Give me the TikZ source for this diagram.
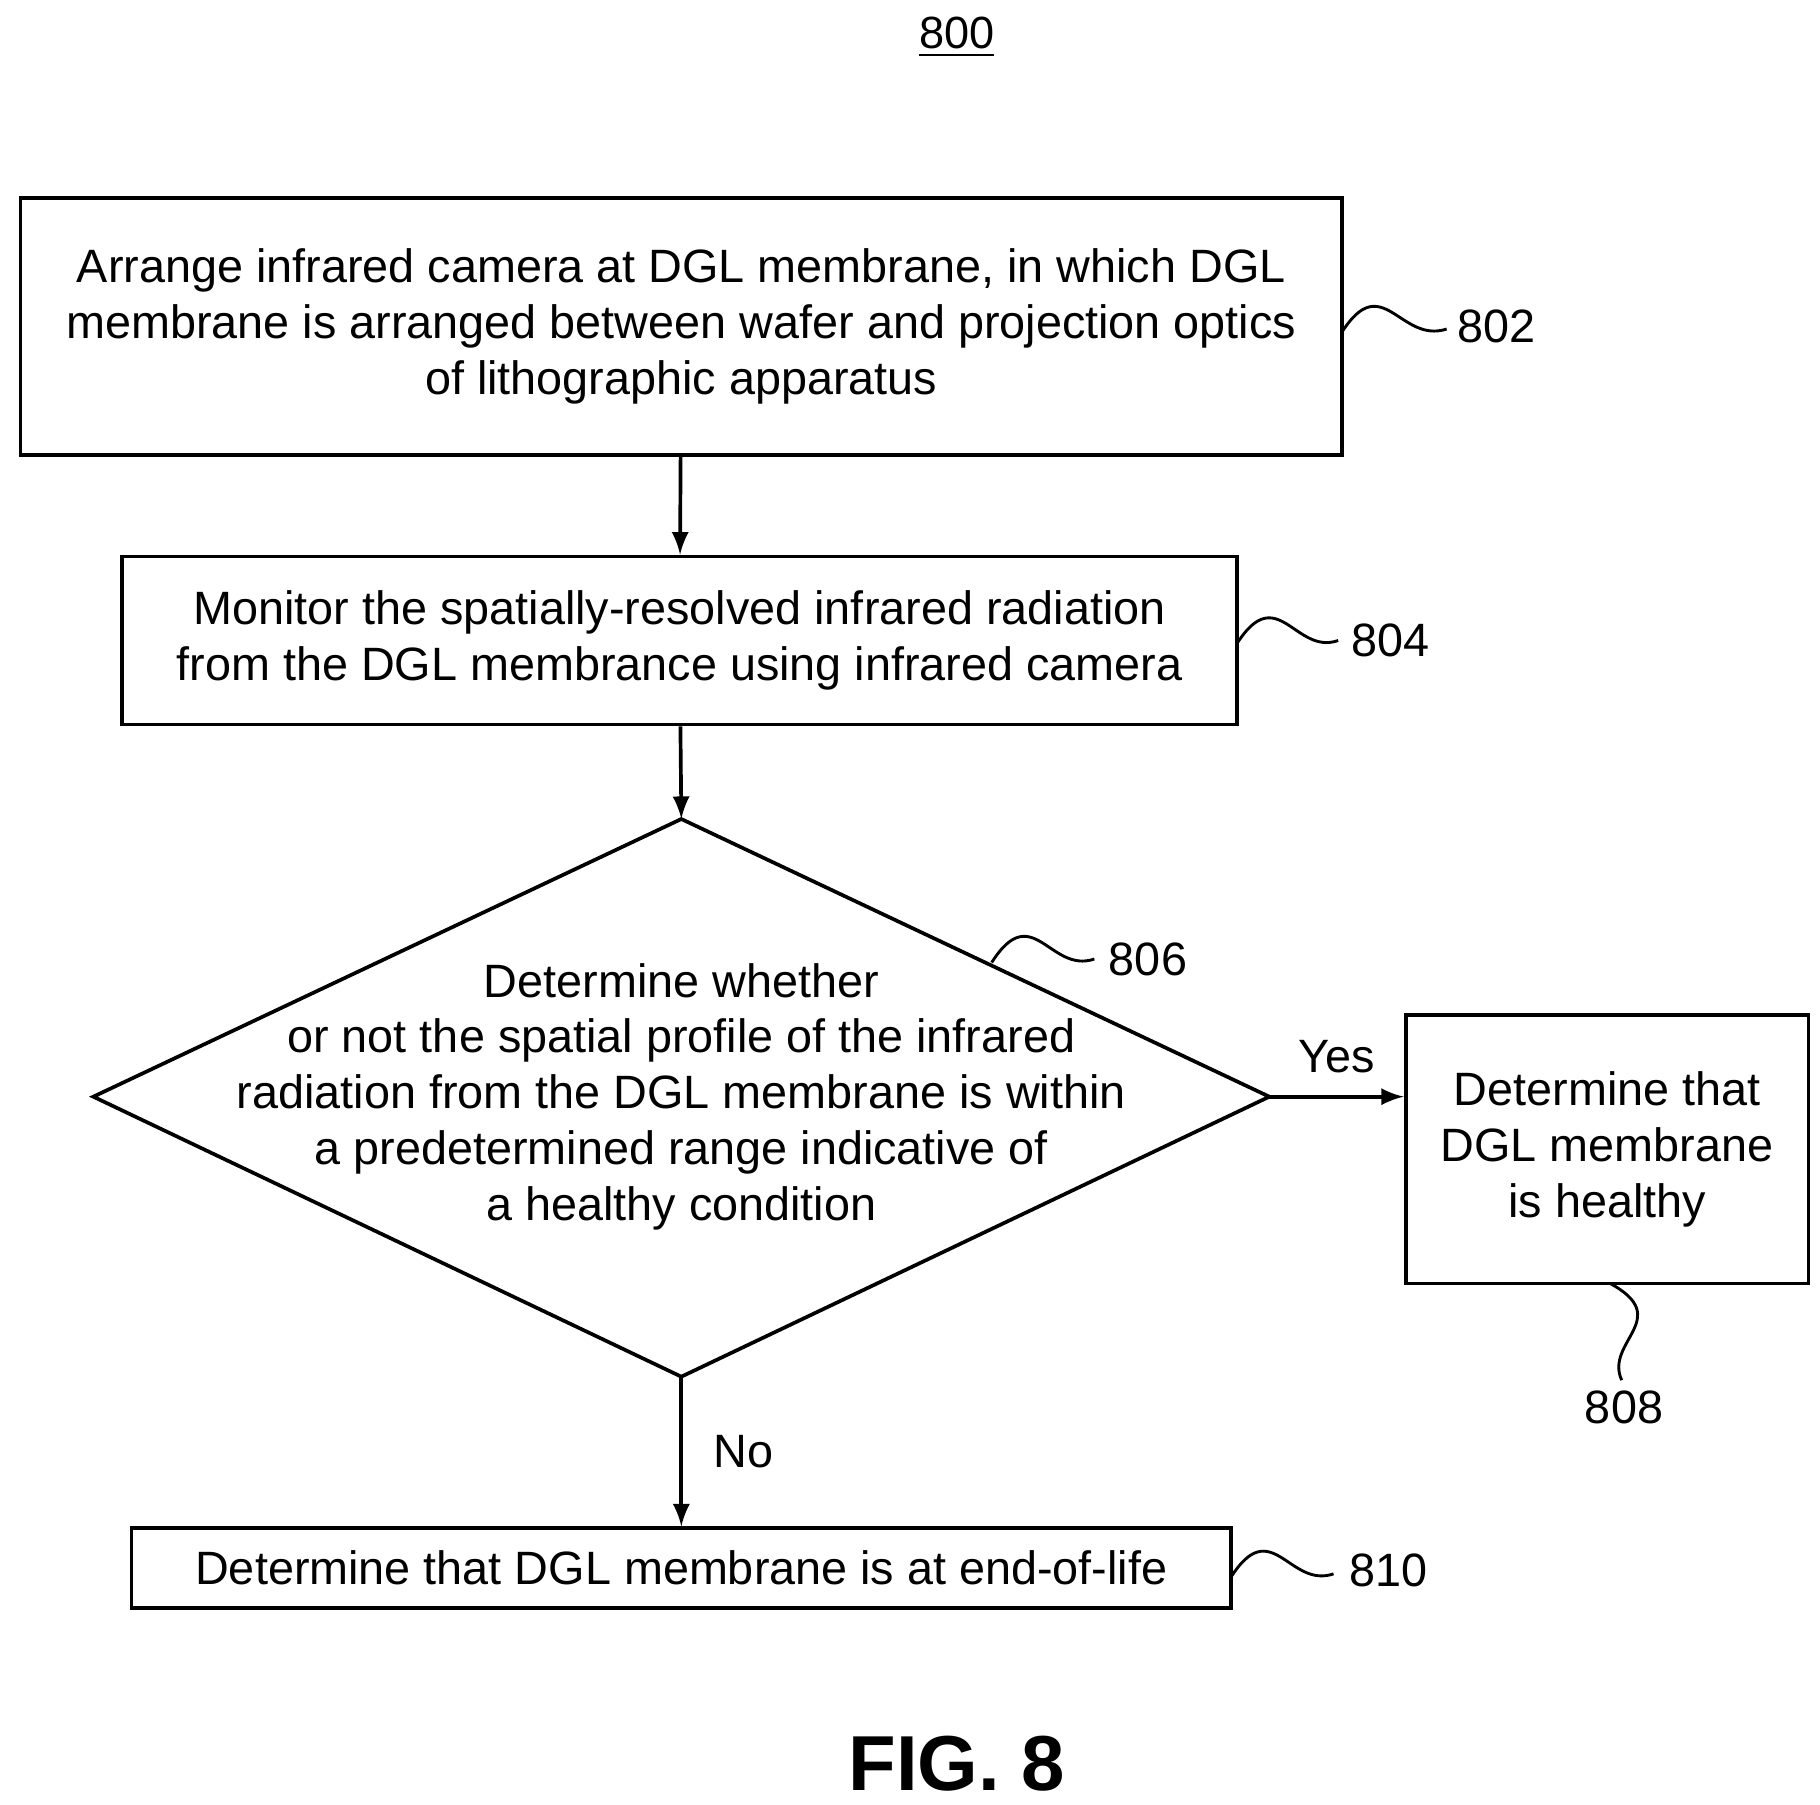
\documentclass[tikz,border=0pt]{standalone}
\usepackage{fontspec}
\setmainfont{Liberation Sans}
\usetikzlibrary{positioning}
\begin{document}
\begin{tikzpicture}[x=0.01cm, y=-0.01cm, line width=0.9pt,
  box/.style={draw, align=center, font=\fontsize{11.4}{13.6}\selectfont, inner sep=0pt},
  lbl/.style={font=\fontsize{11.4}{13.6}\selectfont},
  flow/.style={->, >=latex}]
  \useasboundingbox (0,0) rectangle (1560,1547);
  \node[font=\fontsize{11}{13}\selectfont] (num) at (820,32) {\underline{800}};
  \node[box, minimum width=11.32cm, minimum height=2.2cm] (s802) at (584,280)
    {Arrange infrared camera at DGL membrane, in which DGL\\membrane is arranged between wafer and projection optics\\of lithographic apparatus};
  \node[box, minimum width=9.55cm, minimum height=1.44cm] (s804) at (582.5,549)
    {Monitor the spatially-resolved infrared radiation\\from the DGL membrance using infrared camera};
  \coordinate (dtop) at (584,702);
  \coordinate (dleft) at (80,940);
  \coordinate (dright) at (1088,940);
  \coordinate (dbot) at (584,1180);
  \draw (dtop) -- (dright) -- (dbot) -- (dleft) -- cycle;
  \node[lbl, align=center] (s806) at (584,940)
    {Determine whether\\or not the spatial profile of the infrared\\radiation from the DGL membrane is within\\a predetermined range indicative of\\a healthy condition};
  \node[box, minimum width=3.45cm, minimum height=2.3cm] (s808) at (1377.5,985)
    {Determine that\\DGL membrane\\is healthy};
  \node[box, minimum width=9.42cm, minimum height=0.68cm] (s810) at (584,1344)
    {Determine that DGL membrane is at end-of-life};
  \draw[flow] (s802) -- (s804);
  \draw[flow] (s804) -- (dtop);
  \draw[flow] (dright) -- node[lbl, above=2pt] {Yes} (dright -| s808.west);
  \draw[flow] (dbot) -- node[lbl, right=4pt] {No} (s810);
  % reference numerals
  \node[lbl] (r802) at (1283,280) {802};
  \node[lbl] (r804) at (1192,549) {804};
  \node[lbl] (r806) at (984,822) {806};
  \node[lbl] (r808) at (1392,1206) {808};
  \node[lbl] (r810) at (1190,1346) {810};
  \draw[line width=0.7pt] (1150,285) .. controls (1185,230) and (1200,295) .. (1240,282);
  \draw[line width=0.7pt] (1060,552) .. controls (1095,497) and (1110,562) .. (1147,549);
  \draw[line width=0.7pt] (850,825) .. controls (885,770) and (900,835) .. (938,822);
  \draw[line width=0.7pt] (1055,1352) .. controls (1090,1297) and (1105,1362) .. (1143,1349);
  \draw[line width=0.7pt] (1380,1100) .. controls (1435,1130) and (1375,1150) .. (1390,1183);
  \node[font=\bfseries\fontsize{19}{23}\selectfont] (fig) at (820,1512) {FIG. 8};
\end{tikzpicture}
\end{document}
